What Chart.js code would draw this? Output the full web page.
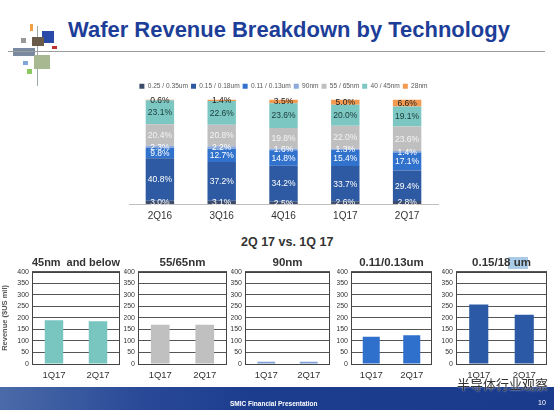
<!DOCTYPE html>
<html><head><meta charset="utf-8">
<script src="https://cdn.jsdelivr.net/npm/chart.js@4"></script>
<style>
body{margin:0;width:554px;height:410px;overflow:hidden;background:#fff;font-family:"Liberation Sans",Arial,sans-serif;position:relative}
.abs{position:absolute}
canvas{position:absolute}
</style></head><body>
<!-- logo decoration -->
<div class="abs" style="left:37px;top:26px;width:1px;height:60px;background:#9aa"></div>
<div class="abs" style="left:30px;top:24px;width:3px;height:7px;background:#f0a040"></div>
<div class="abs" style="left:21px;top:38px;width:5px;height:5px;background:#999"></div>
<div class="abs" style="left:42px;top:31px;width:12px;height:12px;background:#2a4aa8"></div>
<div class="abs" style="left:32px;top:37px;width:12px;height:9px;background:#6a5a4a"></div>
<div class="abs" style="left:52px;top:46px;width:5px;height:3px;background:#c03030"></div>
<div class="abs" style="left:13px;top:48px;width:22px;height:8px;background:#7a8aa0"></div>
<div class="abs" style="left:23px;top:61px;width:5px;height:4px;background:#7fa8d8"></div>
<div class="abs" style="left:34px;top:55px;width:16px;height:14px;background:#a8b890"></div>
<div class="abs" style="left:27px;top:69px;width:5px;height:5px;background:#8cc860"></div>
<div class="abs" style="left:8px;top:51px;width:537px;height:1px;background:#9c9c9c"></div>
<div id="title" class="abs" style="left:68px;top:19px;font-weight:bold;color:#1d3e98;font-size:20px;line-height:1;white-space:nowrap">Wafer Revenue Breakdown by Technology</div>

<canvas id="top" width="367" height="148" style="left:100px;top:80px"></canvas>

<div class="abs" style="left:241px;top:235px;font-weight:bold;color:#333;font-size:12.5px;white-space:nowrap">2Q 17 vs. 1Q 17</div>
<div class="abs" style="left:508px;top:257px;width:20px;height:12px;background:#a9cbe8"></div>

<canvas id="c1" width="122" height="137" style="left:0px;top:250px"></canvas>
<canvas id="c2" width="105" height="137" style="left:124px;top:250px"></canvas>
<canvas id="c3" width="101" height="137" style="left:231px;top:250px"></canvas>
<canvas id="c4" width="97" height="137" style="left:337px;top:250px"></canvas>
<canvas id="c5" width="107" height="137" style="left:442px;top:250px"></canvas>

<div class="abs" style="left:0;top:387px;width:554px;height:23px;background:linear-gradient(90deg,#4a6aa8 0%,#2a4a98 25%,#1c3c8e 45%,#1a3a8c 100%)"></div>
<div class="abs" style="left:230px;top:400px;color:#fff;font-weight:bold;font-size:6.5px;white-space:nowrap">SMIC Financial Presentation</div>
<div class="abs" style="left:538px;top:399px;color:#fff;font-size:7px">10</div>
<div class="abs" style="left:457px;top:374px;color:#333;font-size:13px;font-family:'Noto Sans CJK SC';white-space:nowrap;text-shadow:0 0 2px #fff">半导体行业观察</div>

<script>
// ---- data ----
const quarters = ['2Q16','3Q16','4Q16','1Q17','2Q17'];
const techNames = ['0.25 / 0.35um','0.15 / 0.18um','0.11 / 0.13um','90nm','55 / 65nm','40 / 45nm','28nm'];
const share025 = [3.0, 3.1, 2.5, 2.6, 2.8];
const share015 = [40.8, 37.2, 34.2, 33.7, 29.4];
const share011 = [9.8, 12.7, 14.8, 15.4, 17.1];
const share90  = [2.3, 2.2, 1.6, 1.3, 1.4];
const share5565 = [20.4, 20.8, 19.8, 22.0, 23.6];
const share4045 = [23.1, 22.6, 23.6, 20.0, 19.1];
const share28  = [0.6, 1.4, 3.5, 5.0, 6.6];

const cmpQuarters = ['1Q17','2Q17'];
const rev4045 = [190, 186];
const rev5565 = [170, 170];
const rev90 = [10, 10];
const rev011 = [118, 125];
const rev015 = [258, 214];
const revMax = 400;
const revStep = 50;

// ---- title sizing ----
(function(){
  const el = document.getElementById('title');
  const w = el.getBoundingClientRect().width;
  el.style.fontSize = (20 * 442 / w) + 'px';
})();

Chart.defaults.font.family = '"Liberation Sans", Arial, sans-serif';
Chart.defaults.animation = false;

const segLabels = {
  id: 'segLabels',
  afterDatasetsDraw(chart) {
    const ctx = chart.ctx;
    chart.data.datasets.forEach((ds, i) => {
      const meta = chart.getDatasetMeta(i);
      meta.data.forEach((el, j) => {
        ctx.save();
        ctx.font = '8.5px "Liberation Sans", Arial';
        ctx.fillStyle = ds.labelColor;
        ctx.textAlign = 'center';
        ctx.textBaseline = 'middle';
        ctx.fillText(ds.data[j].toFixed(1) + '%', el.x, (el.y + el.base) / 2 + 0.5);
        ctx.restore();
      });
    });
  }
};

const colors = ['#3e4c6c', '#2d5aa2', '#3172cc', '#8eaadc', '#bfbfbf', '#7cc7c1', '#f39a50'];
const labelColors = ['#fff', '#fff', '#fff', '#fff', '#f4f4f4', '#1a3a3a', '#222'];
const shares = [share025, share015, share011, share90, share5565, share4045, share28];

const spacer = w => ({ display: true, ticks: { display: false }, grid: { display: false, drawTicks: false }, border: { display: false }, afterFit(s) { s.width = w; } });

new Chart(document.getElementById('top'), {
  type: 'bar',
  data: {
    labels: quarters,
    datasets: shares.map((d, i) => ({
      label: techNames[i], data: d, backgroundColor: colors[i], labelColor: labelColors[i],
      barPercentage: 0.46, categoryPercentage: 1, borderWidth: 0
    }))
  },
  options: {
    responsive: false,
    plugins: {
      legend: { position: 'top', labels: { boxWidth: 5, boxHeight: 5, font: { size: 6.6 }, color: '#595959', padding: 3 } },
      tooltip: { enabled: false }
    },
    scales: {
      x: { stacked: true, grid: { display: false, drawTicks: false }, border: { display: true, color: '#bfbfbf' },
           ticks: { font: { size: 10 }, color: '#333', padding: 6 },
           afterFit(s) { s.height = 24; } },
      y: Object.assign(spacer(29), { stacked: true, min: 0, max: 100, position: 'left' }),
      yR: Object.assign(spacer(29), { position: 'right', min: 0, max: 100 })
    }
  },
  plugins: [segLabels]
});

const frame = {
  id: 'frame',
  beforeDatasetsDraw(chart) {
    const a = chart.chartArea, ctx = chart.ctx;
    ctx.save();
    ctx.strokeStyle = '#444';
    ctx.lineWidth = 1;
    ctx.strokeRect(Math.round(a.left) + 0.5, Math.round(a.top) + 0.5, Math.round(a.right - a.left) - 1, Math.round(a.bottom - a.top));
    ctx.restore();
  }
};

function small(id, title, values, color, yw, showTitle) {
  new Chart(document.getElementById(id), {
    type: 'bar',
    data: { labels: cmpQuarters, datasets: [{ data: values, backgroundColor: color, barPercentage: 0.42, categoryPercentage: 1 }] },
    options: {
      responsive: false,
      layout: { padding: { right: 2 } },
      plugins: {
        legend: { display: false }, tooltip: { enabled: false },
        title: { display: true, text: title, fullSize: false, color: '#333', font: { size: 11.5, weight: 'bold' }, padding: { top: 6, bottom: 2 } }
      },
      scales: {
        x: { grid: { display: false, drawTicks: false }, border: { display: false },
             ticks: { font: { size: 9.5 }, color: '#333', padding: 6 },
             afterFit(s) { s.height = 23; } },
        y: { min: 0, max: revMax, ticks: { stepSize: revStep, font: { size: 7 }, color: '#333', padding: 3 },
             grid: { color: '#555', drawTicks: false }, border: { display: false },
             title: { display: showTitle, text: 'Revenue ($US mil)', color: '#555', font: { size: 7.5, weight: 'bold' }, padding: 0 },
             afterFit(s) { s.width = yw; } }
      }
    },
    plugins: [frame]
  });
}

small('c1', '45nm  and below', rev4045, '#79c6c0', 32, true);
small('c2', '55/65nm', rev5565, '#c0c0c0', 14, false);
small('c3', '90nm', rev90, '#7f9fd8', 14, false);
small('c4', '0.11/0.13um', rev011, '#2f70cc', 14, false);
small('c5', '0.15/18 um', rev015, '#2b59a5', 14, false);
</script>
</body></html>
